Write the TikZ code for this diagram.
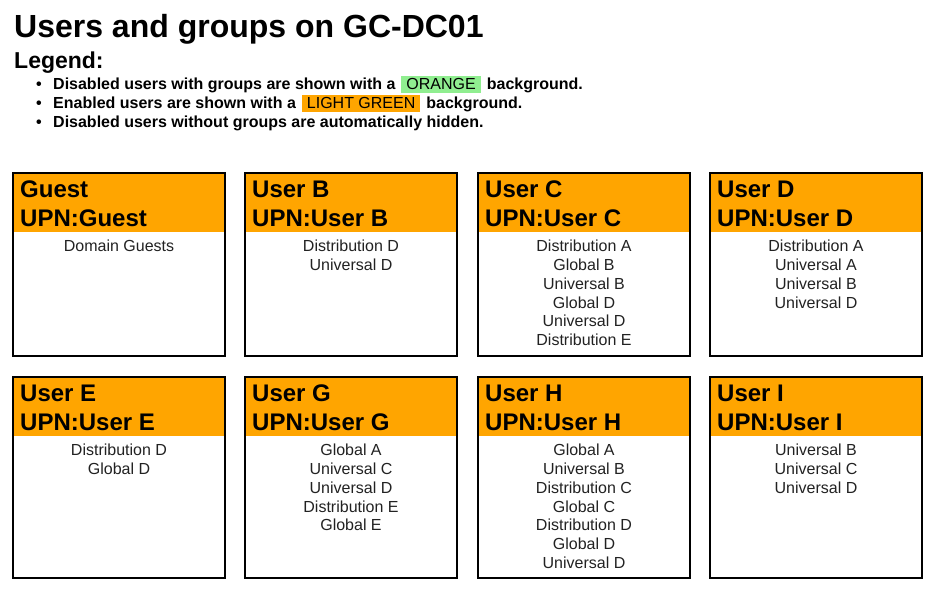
\documentclass[tikz,border=0pt]{standalone}
\usepackage{fontspec}
\setmainfont{Liberation Sans}
\definecolor{hdr}{HTML}{FFA500}
\definecolor{lgreen}{HTML}{90EE90}
\definecolor{grptxt}{HTML}{222222}
\newcommand\hlbox[2]{\hspace{6pt}{\setlength\fboxsep{0pt}\colorbox{#1}{\rule[-3.5pt]{0pt}{17pt}\hspace{5pt}\mdseries #2\hspace{5pt}}}\hspace{6pt}}
\newcommand\userbox[6]{%
  \fill[hdr] (#2,#3) rectangle (#2+212,#3+59);
  \draw[boxline] (#2,#3) rectangle (#2+212,#4);
  \draw[line width=2pt] (#2,#4) -- (#2+212,#4);
  \node[hname] (#1-t) at (#2+7,#3+24) {#5};
  \node[hname] (#1-u) at (#2+7,#3+53) {UPN:#5};
  \foreach \g [count=\i] in {#6} {
    \node[grp] (#1-g\i) at (#2+106,{#3+78.7+(\i-1)*18.8}) {\g};
  }%
}
\begin{document}
\begin{tikzpicture}[x=1pt,y=-1pt,
  txt/.style={inner sep=0pt,anchor=base west},
  hname/.style={inner sep=0pt,anchor=base west,font=\fontsize{24}{29}\selectfont\bfseries},
  grp/.style={inner sep=0pt,anchor=base,text=grptxt,font=\fontsize{16}{19}\selectfont},
  boxline/.style={draw=black,line width=1.3pt},
  bul/.style={inner sep=0pt,anchor=base west,font=\fontsize{16}{19}\selectfont\bfseries}]
\useasboundingbox (0,0) rectangle (935,590);
\fill[white] (0,0) rectangle (935,590);
\node[txt,font=\fontsize{32}{38}\selectfont\bfseries] (title) at (14,37) {Users and groups on GC-DC01};
\node[txt,font=\fontsize{23}{28}\selectfont\bfseries] (legend) at (14,68) {Legend:};
\node[bul] (b1) at (36,89) {\textbullet};
\node[bul] (l1) at (53,89) {Disabled users with groups are shown with a\hlbox{lgreen}{ORANGE}background.};
\node[bul] (b2) at (36,108) {\textbullet};
\node[bul] (l2) at (53,108) {Enabled users are shown with a\hlbox{hdr}{LIGHT GREEN}background.};
\node[bul] (b3) at (36,127) {\textbullet};
\node[bul] (l3) at (53,127) {Disabled users without groups are automatically hidden.};
\userbox{ga}{13}{173}{356}{Guest}{Domain Guests}
\userbox{ub}{245}{173}{356}{User B}{Distribution D,Universal D}
\userbox{uc}{478}{173}{356}{User C}{Distribution A,Global B,Universal B,Global D,Universal D,Distribution E}
\userbox{ud}{710}{173}{356}{User D}{Distribution A,Universal A,Universal B,Universal D}
\userbox{ue}{13}{377}{578}{User E}{Distribution D,Global D}
\userbox{ug}{245}{377}{578}{User G}{Global A,Universal C,Universal D,Distribution E,Global E}
\userbox{uh}{478}{377}{578}{User H}{Global A,Universal B,Distribution C,Global C,Distribution D,Global D,Universal D}
\userbox{ui}{710}{377}{578}{User I}{Universal B,Universal C,Universal D}
\end{tikzpicture}
\end{document}
